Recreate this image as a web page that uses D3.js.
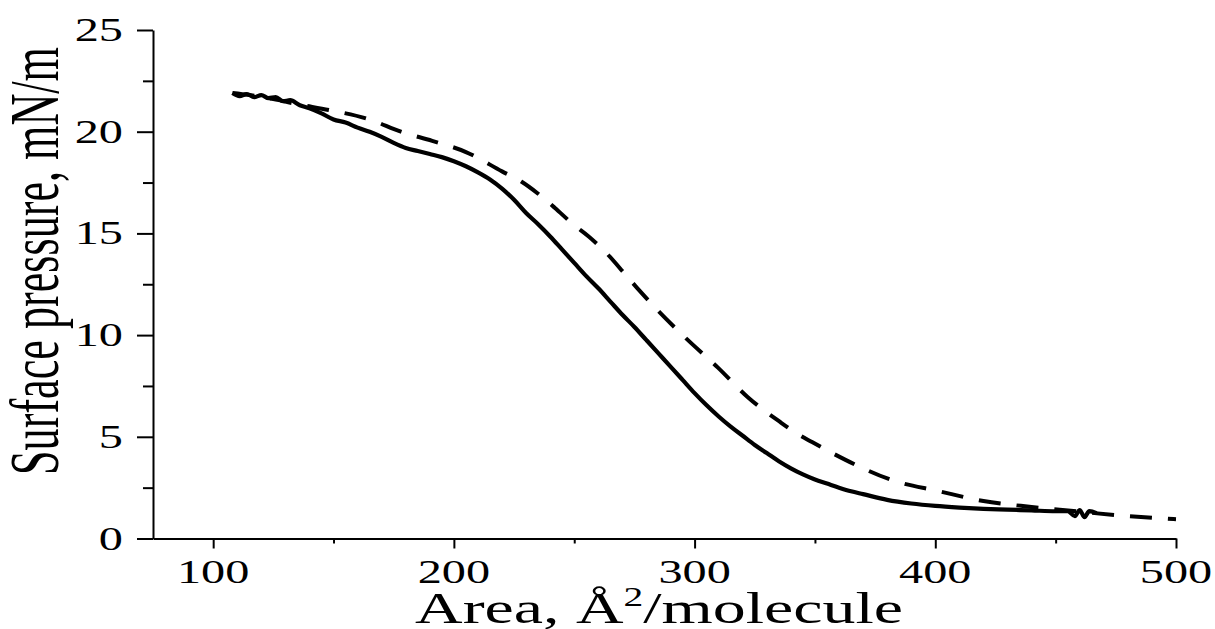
<!DOCTYPE html>
<html><head><meta charset="utf-8">
<script src="https://cdn.jsdelivr.net/npm/d3@7"></script>
<style>body{margin:0;background:#fff}</style>
</head><body>
<svg id="c" width="1215" height="629"></svg>
<script>
// Solid isotherm
const solidArea = [108,111,114,117,120,123,126,129,132,136,140,145,150,155,160,165,170,175,180,185,190,195,200,205,210,215,220,225,230,235,240,245,250,255,260,265,270,275,280,285,290,295,300,305,310,315,320,325,330,335,340,345,350,355,360,365,370,380,390,400,410,420,430,440,450,455,458,460,462,464,467];
const solidPressure = [21.9,21.75,21.85,21.7,21.8,21.65,21.7,21.5,21.55,21.3,21.15,20.9,20.6,20.45,20.2,20.0,19.75,19.45,19.2,19.05,18.9,18.75,18.55,18.3,18.0,17.65,17.2,16.65,16.0,15.45,14.85,14.2,13.55,12.9,12.3,11.65,11.0,10.4,9.75,9.1,8.45,7.8,7.15,6.55,6.0,5.5,5.05,4.6,4.2,3.8,3.45,3.15,2.9,2.7,2.5,2.32,2.18,1.9,1.72,1.6,1.52,1.46,1.42,1.38,1.34,1.35,1.1,1.4,1.05,1.35,1.25];
// Dashed isotherm
const dashArea = [108,115,125,135,148,165,178,191,205,220,228,235,242,249.5,256,262,274,284.8,296.8,309.7,322,335.5,342,348.8,358,368,383,401,420,440,460,475,490,500];
const dashPressure = [21.9,21.8,21.6,21.35,21.07,20.6,20.0,19.55,19.0,18.05,17.55,16.95,16.25,15.45,14.85,14.2,12.6,11.2,9.8,8.4,6.96,5.73,5.2,4.74,4.15,3.56,2.83,2.34,1.84,1.55,1.32,1.15,1.02,0.95];

const xTickValues = [100,200,300,400,500];
const xMinorTicks = [150,250,350,450];
const yTickValues = [0,5,10,15,20,25];
const yMinorTicks = [2.5,7.5,12.5,17.5,22.5];
const xTitleParts = ["Area, Å", "2", "/molecule"];
const yTitle = "Surface pressure, mN/m";

const svg = d3.select("#c");
const FONT = "'Liberation Serif','Times New Roman',serif";
const x = d3.scaleLinear().domain([75,500]).range([153,1176]);
const y = d3.scaleLinear().domain([0,25]).range([538.5,30]);

function styleAxis(g){
  g.attr("color","#000");
  g.selectAll("path,line").attr("stroke","#000").attr("stroke-width",2);
}
// x axis
svg.append("g").attr("transform","translate(0,538.5)")
  .call(d3.axisBottom(x).tickValues(xTickValues).tickSize(10).tickSizeOuter(0).tickFormat(""))
  .call(styleAxis);
svg.append("g").attr("transform","translate(0,538.5)")
  .call(d3.axisBottom(x).tickValues(xMinorTicks).tickSize(5).tickSizeOuter(0).tickFormat(""))
  .call(g=>g.select(".domain").remove()).call(styleAxis);
// y axis
svg.append("g").attr("transform","translate(153,0)")
  .call(d3.axisLeft(y).tickValues(yTickValues).tickSize(16).tickSizeOuter(0).tickFormat(""))
  .call(styleAxis);
svg.append("g").attr("transform","translate(153,0)")
  .call(d3.axisLeft(y).tickValues(yMinorTicks).tickSize(10).tickSizeOuter(0).tickFormat(""))
  .call(g=>g.select(".domain").remove()).call(styleAxis);

// tick labels
const kTick = 1.42;
svg.append("g").selectAll("text").data(xTickValues).join("text")
  .attr("transform",d=>`translate(${x(d)},583) scale(${kTick},1)`)
  .attr("text-anchor","middle").attr("fill","#000")
  .style("font-family",FONT).style("font-size","34px").text(d=>d);
svg.append("g").selectAll("text").data(yTickValues).join("text")
  .attr("transform",d=>`translate(123,${y(d)+11}) scale(${kTick},1)`)
  .attr("text-anchor","end").attr("fill","#000")
  .style("font-family",FONT).style("font-size","34px").text(d=>d);

// x title
const xt = svg.append("text").attr("text-anchor","middle").attr("fill","#000")
  .style("font-family",FONT).style("font-size","45px");
xt.append("tspan").text(xTitleParts[0]);
xt.append("tspan").attr("dy",-17).style("font-size","27px").text(xTitleParts[1]);
xt.append("tspan").attr("dy",17).text(xTitleParts[2]);
const xw = xt.node().getBBox().width;
xt.attr("transform",`translate(659,623) scale(${488/xw},1)`);

// y title
const yt = svg.append("text").attr("text-anchor","middle").attr("fill","#000")
  .style("font-family",FONT).style("font-size","44px").text(yTitle);
const yw = yt.node().getBBox().width;
const fs = 44*428/yw;
yt.style("font-size",fs+"px");
const ky = 46/(0.662*fs);
yt.attr("transform",`translate(58,261) scale(${ky},1) rotate(-90)`);

// lines
const line = d3.line().x(d=>x(d[0])).y(d=>y(d[1])).curve(d3.curveMonotoneX);
svg.append("path").datum(d3.zip(dashArea,dashPressure)).attr("d",line)
  .attr("fill","none").attr("stroke","#000").attr("stroke-width",4)
  .attr("stroke-dasharray","22 16");
svg.append("path").datum(d3.zip(solidArea,solidPressure)).attr("d",line)
  .attr("fill","none").attr("stroke","#000").attr("stroke-width",4.2)
  .attr("stroke-linejoin","round");
</script>
</body></html>
